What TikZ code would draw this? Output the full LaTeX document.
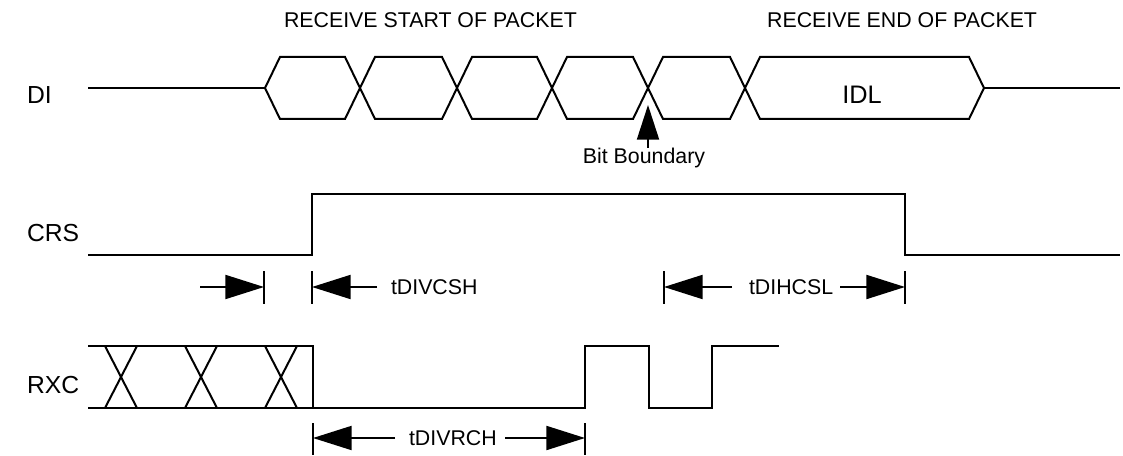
\documentclass[tikz,border=0pt]{standalone}
\usepackage{fontspec}
\setmainfont{Liberation Sans}
\usetikzlibrary{arrows.meta}

\tikzset{every picture/.style={line width=1.5pt}}
\tikzset{
	sig name/.style={font=\fontsize{18.5}{20}\selectfont, anchor=base west, inner sep=0pt},
	head text/.style={font=\fontsize{16}{18}\selectfont, inner sep=0pt},
	time text/.style={font=\fontsize{16}{18}\selectfont, anchor=west, inner sep=0pt},
	dim arrow/.style={-{Triangle[length=29pt,width=18pt]}},
	bit arrow/.style={-{Triangle[length=26pt,width=16.5pt]}},
	tick line/.style={line width=1.2pt}}

\begin{document}
\begin{tikzpicture}[x=0.75pt,y=0.75pt,yscale=-1,xscale=1]
	\path (0,0) rectangle (1123,456); %set diagram to 1123 x 456

	% Text Node
	\node [head text, anchor=base west] (hstart) at (283,28) {RECEIVE START OF PACKET};
	% Text Node
	\node [head text, anchor=base east] (hend) at (1038,28) {RECEIVE END OF PACKET};
	% Text Node
	\node [sig name] (di) at (26,104) {DI};
	% Text Node
	\node [sig name] (crs) at (26,241) {CRS};
	% Text Node
	\node [sig name] (rxc) at (26,393) {RXC};

	%Straight Lines DI idle
	\draw    (88,88) -- (265,88) ;
	%Shape: data cells
	\foreach \a/\b in {265/360, 360/457, 457/552, 552/648, 648/745}
		\draw   (\a,88) -- (\a+15,57) -- (\b-15,57) -- (\b,88) -- (\b-15,119) -- (\a+15,119) -- cycle ;
	%Shape: IDL cell
	\draw   (745,88) -- (760,57) -- (969,57) -- (984,88) -- (969,119) -- (760,119) -- cycle ;
	\draw    (984,88) -- (1120,88) ;
	% Text Node
	\node [font=\fontsize{19}{21}\selectfont, anchor=base, inner sep=0pt] (idl) at (862,104) {IDL};

	%Straight Lines bit boundary
	\node [head text, anchor=base] (bitb) at (644,163) {Bit Boundary};
	\coordinate (bbtip) at (648,105);
	\coordinate (bbfoot) at (648,148);
	\draw [bit arrow] (bbfoot) -- (bbtip) ;

	%Straight Lines CRS
	\draw    (88,255) -- (312,255) -- (312,194) -- (905,194) -- (905,255) -- (1120,255) ;

	%Straight Lines ticks
	\foreach \x in {264,312,664,905}
		\draw [tick line]  (\x,271) -- (\x,304) ;
	\coordinate (lead) at (200,287);
	\coordinate (leadtip) at (264,287);
	\draw [dim arrow] (lead) -- (leadtip) ;
	% Text Node
	\node [time text] (csh) at (390,287) {tDIVCSH};
	\draw [dim arrow] (377,287) -- (312,287) ;
	% Text Node
	\node [time text] (csl) at (748,287) {tDIHCSL};
	\draw [dim arrow] (732,287) -- (664,287) ;
	\draw [dim arrow] (840,287) -- (905,287) ;

	%Straight Lines RXC
	\draw    (88,346) -- (313,346) -- (313,408) ;
	\draw    (88,408) -- (585,408) -- (585,346) -- (649,346) -- (649,408) -- (712,408) -- (712,346) -- (779,346) ;
	\foreach \c in {121,201,281}
		\draw   (\c-16,346) -- (\c+16,408) (\c-16,408) -- (\c+16,346) ;

	%Straight Lines ticks
	\foreach \x in {313,585}
		\draw [tick line]  (\x,423) -- (\x,455) ;
	% Text Node
	\node [time text] (rch) at (408,438) {tDIVRCH};
	\draw [dim arrow] (395,438) -- (313,438) ;
	\draw [dim arrow] (505,438) -- (585,438) ;

\end{tikzpicture}
\end{document}
